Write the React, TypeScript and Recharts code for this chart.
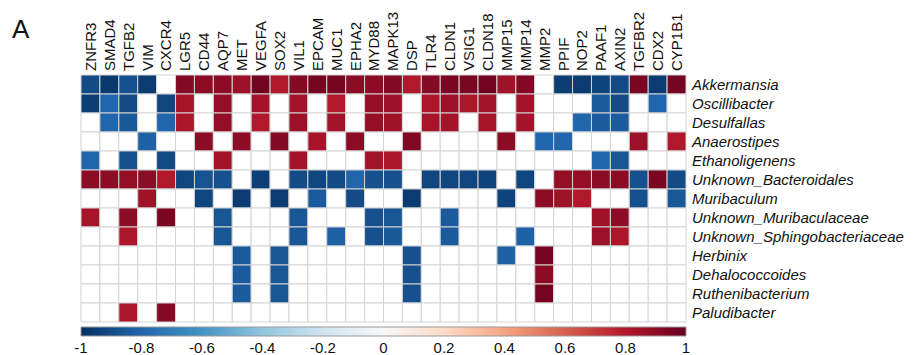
import React from "react";
import { Bar, BarChart, Cell, XAxis, YAxis } from "recharts";

const genes = [
  "ZNFR3", "SMAD4", "TGFB2", "VIM", "CXCR4", "LGR5", "CD44", "AQP7", "MET", "VEGFA",
  "SOX2", "VIL1", "EPCAM", "MUC1", "EPHA2", "MYD88", "MAPK13", "DSP", "TLR4", "CLDN1",
  "VSIG1", "CLDN18", "MMP15", "MMP14", "MMP2", "PPIF", "NOP2", "PAAF1", "AXIN2", "TGFBR2",
  "CDX2", "CYP1B1",
];

const taxa = [
  "Akkermansia", "Oscillibacter", "Desulfallas", "Anaerostipes", "Ethanoligenens",
  "Unknown_Bacteroidales", "Muribaculum", "Unknown_Muribaculaceae",
  "Unknown_Sphingobacteriaceae", "Herbinix", "Dehalococcoides", "Ruthenibacterium",
  "Paludibacter",
];

// correlation per taxon, one value per gene (0 = blank / not significant)
const akkermansia = [-0.9, -0.97, -0.88, -0.96, 0, 0.92, 0.9, 0.9, 0.86, 0.97, 0.8, 0.92, 0.96, 0.96, 0.9, 0.9, 0.92, 0.8, 0.92, 0.95, 0.95, 0.97, 0.85, 0.93, 0, -0.95, -0.96, -0.93, -0.9, 0.95, -0.96, 0.96];
const oscillibacter = [-0.95, -0.8, -0.9, 0, -0.92, 0.83, 0, 0.88, 0, 0.84, 0, 0.84, 0, 0.8, 0, 0.88, 0.86, 0, 0.82, 0.86, 0.82, 0.84, 0, 0.84, 0, 0, 0, -0.84, -0.9, 0, -0.8, 0];
const desulfallas = [0, -0.8, -0.85, 0, -0.8, 0.82, 0, 0.88, 0, 0.8, 0, 0.86, 0, 0.84, 0, 0.88, 0.85, 0, 0.83, 0.84, 0, 0.83, 0, 0.84, 0, 0, -0.8, -0.84, -0.84, 0, 0, 0];
const anaerostipes = [0, 0, 0, -0.82, 0, 0, 0.9, 0, 0.9, 0, 0.92, 0, 0.83, 0, 0.9, 0, 0, 0.93, 0, 0, 0, 0, 0.9, 0, -0.8, -0.8, 0, 0, 0, 0.86, 0, 0.8];
const ethanoligenens = [-0.8, 0, -0.88, 0, -0.9, 0, 0, 0.84, 0, 0, 0, 0.84, 0, 0, 0, 0.84, 0.82, 0, 0, 0, 0, 0, 0, 0, 0, 0, 0, -0.8, -0.86, 0, 0, 0];
const unkBacteroidales = [0.9, 0.9, 0.88, 0.9, 0.8, -0.92, -0.87, -0.88, 0, -0.94, 0, -0.9, -0.92, -0.9, -0.8, -0.88, -0.88, 0, -0.92, -0.92, -0.92, -0.93, 0, -0.92, 0, 0.88, 0.88, 0.9, 0.9, -0.88, 0.95, -0.9];
const muribaculum = [0, 0, 0, 0.85, 0, 0, -0.92, 0, -0.96, 0, -0.96, 0, -0.84, 0, -0.9, 0, 0, -0.96, 0, 0, 0, 0, -0.93, 0, 0.9, 0.85, 0.8, 0, 0, -0.88, 0, -0.85];
const unkMuribaculaceae = [0.83, 0, 0.9, 0, 0.95, 0, 0, -0.86, 0, 0, 0, -0.86, 0, 0, 0, -0.88, -0.86, 0, 0, -0.84, 0, 0, 0, 0, 0, 0, 0, 0.85, 0.9, 0, 0, 0];
const unkSphingobacteriaceae = [0, 0, 0.82, 0, 0, 0, 0, -0.86, 0, 0, 0, -0.86, 0, -0.82, 0, -0.88, -0.85, 0, 0, -0.84, 0, 0, 0, -0.82, 0, 0, 0, 0.86, 0.82, 0, 0, 0];
const herbinix = [0, 0, 0, 0, 0, 0, 0, 0, -0.84, 0, -0.86, 0, 0, 0, 0, 0, 0, -0.88, 0, 0, 0, 0, -0.82, 0, 0.96, 0, 0, 0, 0, 0, 0, 0];
const dehalococcoides = [0, 0, 0, 0, 0, 0, 0, 0, -0.84, 0, -0.86, 0, 0, 0, 0, 0, 0, -0.88, 0, 0, 0, 0, 0, 0, 0.9, 0, 0, 0, 0, 0, 0, 0];
const ruthenibacterium = [0, 0, 0, 0, 0, 0, 0, 0, -0.84, 0, -0.86, 0, 0, 0, 0, 0, 0, -0.88, 0, 0, 0, 0, 0, 0, 0.96, 0, 0, 0, 0, 0, 0, 0];
const paludibacter = [0, 0, 0.82, 0, 0.92, 0, 0, 0, 0, 0, 0, 0, 0, 0, 0, 0, 0, 0, 0, 0, 0, 0, 0, 0, 0, 0, 0, 0, 0, 0, 0, 0];

const rows = [
  akkermansia, oscillibacter, desulfallas, anaerostipes, ethanoligenens, unkBacteroidales,
  muribaculum, unkMuribaculaceae, unkSphingobacteriaceae, herbinix, dehalococcoides,
  ruthenibacterium, paludibacter,
];

const colorTicks = [-1, -0.8, -0.6, -0.4, -0.2, 0, 0.2, 0.4, 0.6, 0.8, 1];

const RDBU = [
  "#053061", "#2166AC", "#4393C3", "#92C5DE", "#D1E5F0", "#F7F7F7",
  "#FDDBC7", "#F4A582", "#D6604D", "#B2182B", "#67001F",
];

const FONT = "'Liberation Sans', Arial, sans-serif";

function hex(c: string) {
  return [1, 3, 5].map((i) => parseInt(c.slice(i, i + 2), 16));
}

function corrColor(v: number): string {
  if (Math.abs(v) < 0.01) return "#ffffff";
  const t = ((v + 1) / 2) * 10;
  const i = Math.min(9, Math.floor(t));
  const f = t - i;
  const a = hex(RDBU[i]);
  const b = hex(RDBU[i + 1]);
  const m = a.map((x, k) => Math.round(x + (b[k] - x) * f));
  return `rgb(${m[0]},${m[1]},${m[2]})`;
}

const data = taxa.map((name) => {
  const row: Record<string, string | number> = { name };
  genes.forEach((_, c) => (row[`c${c}`] = 1));
  return row;
});

function GeneTick(props: any) {
  const { x, y, payload } = props;
  const label = genes[Math.floor(payload.value)];
  return (
    <text
      transform={`translate(${x},${y}) rotate(-90)`}
      textAnchor="start"
      dy="0.36em"
      fontSize={15}
      fontFamily={FONT}
      fill="#111"
    >
      {label}
    </text>
  );
}

function TaxonTick(props: any) {
  const { x, y, payload } = props;
  return (
    <text x={x} y={y} dy="0.36em" textAnchor="start" fontSize={15} fontStyle="italic" fontFamily={FONT} fill="#111">
      {payload.value}
    </text>
  );
}

export default function App() {
  return (
    <div style={{ position: "absolute", left: 0, top: 0, width: 921, height: 355, background: "#fff" }}>
      <div style={{ position: "absolute", left: 12, top: 14, fontSize: 26, fontFamily: FONT, color: "#111" }}>A</div>

      <div style={{ position: "absolute", left: 0, top: 0 }}>
        <BarChart
          width={921}
          height={330}
          data={data}
          layout="vertical"
          barCategoryGap={0}
          barGap={0}
          margin={{ top: 0, right: 0, bottom: 8, left: 81 }}
        >
          <XAxis
            type="number"
            orientation="top"
            domain={[0, genes.length]}
            ticks={genes.map((_, i) => i + 0.5)}
            interval={0}
            height={75}
            axisLine={false}
            tickLine={false}
            tickSize={0}
            tickMargin={4}
            tick={<GeneTick />}
          />
          <YAxis
            type="category"
            dataKey="name"
            orientation="right"
            width={235}
            interval={0}
            axisLine={false}
            tickLine={false}
            tickSize={0}
            tickMargin={6}
            tick={<TaxonTick />}
          />
          {genes.map((g, c) => (
            <Bar key={g} dataKey={`c${c}`} stackId="a" stroke="#d4d4d4" strokeWidth={1} isAnimationActive={false}>
              {rows.map((vals, r) => (
                <Cell key={r} fill={corrColor(vals[c])} />
              ))}
            </Bar>
          ))}
        </BarChart>
      </div>

      <div style={{ position: "absolute", left: 0, top: 318 }}>
        <BarChart
          width={921}
          height={37}
          data={[{ name: "scale", span: [-1, 1] }]}
          layout="vertical"
          barCategoryGap={0}
          margin={{ top: 9, right: 235, bottom: 0, left: 81 }}
        >
          <defs>
            <linearGradient id="rdbu" x1="0" x2="1" y1="0" y2="0">
              {RDBU.map((c, i) => (
                <stop key={c} offset={`${i * 10}%`} stopColor={c} />
              ))}
            </linearGradient>
          </defs>
          <XAxis
            type="number"
            domain={[-1, 1]}
            ticks={colorTicks}
            interval={0}
            height={19}
            axisLine={false}
            tickLine={false}
            tickSize={0}
            tickMargin={6}
            tick={{ fontSize: 15, fontFamily: FONT, fill: "#111" }}
          />
          <YAxis type="category" dataKey="name" hide />
          <Bar dataKey="span" fill="url(#rdbu)" stroke="#999" strokeWidth={1} isAnimationActive={false} />
        </BarChart>
      </div>
    </div>
  );
}
